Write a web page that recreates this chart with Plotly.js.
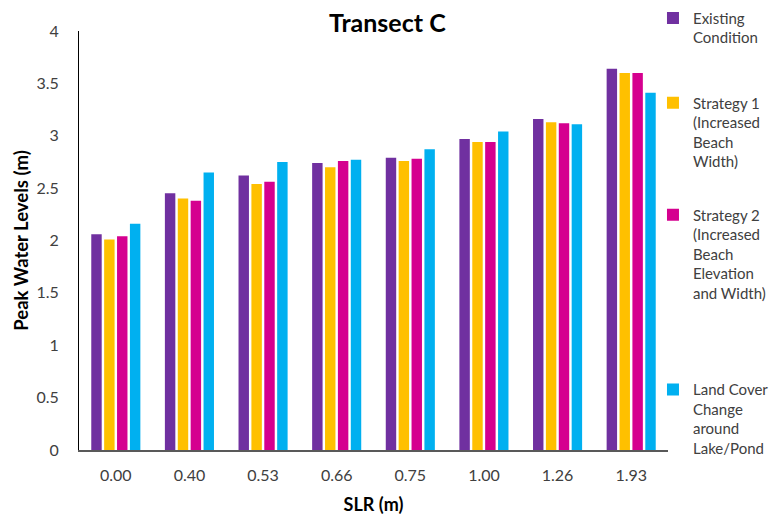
<!DOCTYPE html>
<html>
<head>
<meta charset="utf-8">
<script src="https://cdn.plot.ly/plotly-3.0.1.min.js"></script>
<style>
  html, body { margin: 0; padding: 0; background: #ffffff; }
  #chart { width: 770px; height: 516px; }
</style>
</head>
<body>
<div id="chart"></div>
<script>
// Sea level rise scenarios (m)
const slrLevels = ["0.00", "0.40", "0.53", "0.66", "0.75", "1.00", "1.26", "1.93"];

// Peak water levels (m) at Transect C for each scenario
const existingCondition = [2.06, 2.45, 2.62, 2.74, 2.79, 2.97, 3.16, 3.64];
const strategy1 = [2.01, 2.40, 2.54, 2.70, 2.76, 2.94, 3.13, 3.60];
const strategy2 = [2.04, 2.38, 2.56, 2.76, 2.78, 2.94, 3.12, 3.60];
const landCover = [2.16, 2.65, 2.75, 2.77, 2.87, 3.04, 3.11, 3.41];

const seriesNames = [
  "Existing<br>Condition",
  "Strategy 1<br>(Increased<br>Beach<br>Width)",
  "Strategy 2<br>(Increased<br>Beach<br>Elevation<br>and Width)",
  "Land Cover<br>Change<br>around<br>Lake/Pond"
];
const seriesValues = [existingCondition, strategy1, strategy2, landCover];
const seriesColors = ["#7030A0", "#FFC000", "#D5008F", "#00B0F0"];
const legendIds = ["legend", "legend2", "legend3", "legend4"];
const legendTops = [1.07, 0.8675, 0.600, 0.183];

const FONT = "Lato, 'Open Sans', sans-serif";

const traces = seriesValues.map((vals, i) => ({
  type: "bar",
  name: seriesNames[i],
  x: slrLevels,
  y: vals,
  marker: { color: seriesColors[i], line: { width: 0 } },
  legend: legendIds[i],
  hoverinfo: "x+y"
}));

// Each series gets its own legend box so the entries can sit at their own heights
const legendBase = {
  x: 0.9745,
  xanchor: "left",
  yanchor: "top",
  bgcolor: "rgba(0,0,0,0)",
  borderwidth: 0,
  font: { family: FONT, size: 15, color: "#404040" },
  itemclick: false,
  itemdoubleclick: false,
  valign: "top"
};

const layout = {
  width: 770,
  height: 516,
  margin: { l: 79, r: 102, t: 31, b: 66, autoexpand: false },
  paper_bgcolor: "#ffffff",
  plot_bgcolor: "#ffffff",
  font: { family: FONT, color: "#404040" },
  barmode: "group",
  bargap: 0.3,
  bargroupgap: 0.19,
  showlegend: true,
  title: {
    text: "<b>Transect C</b>",
    font: { family: FONT, size: 25, color: "#000000" },
    x: 0.503,
    xanchor: "center",
    y: 0.955,
    yanchor: "middle"
  },
  xaxis: {
    type: "category",
    title: {
      text: "<b>SLR (m)</b>",
      font: { family: FONT, size: 18, color: "#000000" },
      standoff: 15
    },
    tickfont: { family: FONT, size: 16, color: "#404040" },
    showline: true,
    linecolor: "#595959",
    linewidth: 1.5,
    ticks: "",
    ticklabelstandoff: 10,
    showgrid: false,
    zeroline: false,
    fixedrange: true
  },
  yaxis: {
    title: {
      text: "<b>Peak Water Levels (m)</b>",
      font: { family: FONT, size: 18.5, color: "#000000" },
      standoff: 2
    },
    range: [0, 4],
    dtick: 0.5,
    tickfont: { family: FONT, size: 16, color: "#404040" },
    showline: true,
    linecolor: "#000000",
    linewidth: 1,
    ticks: "",
    ticklabelstandoff: 16,
    showgrid: false,
    zeroline: false,
    fixedrange: true
  }
};

legendIds.forEach((id, i) => {
  layout[id] = Object.assign({}, legendBase, { y: legendTops[i] });
});

Plotly.newPlot("chart", traces, layout, { displayModeBar: false });
</script>
</body>
</html>
